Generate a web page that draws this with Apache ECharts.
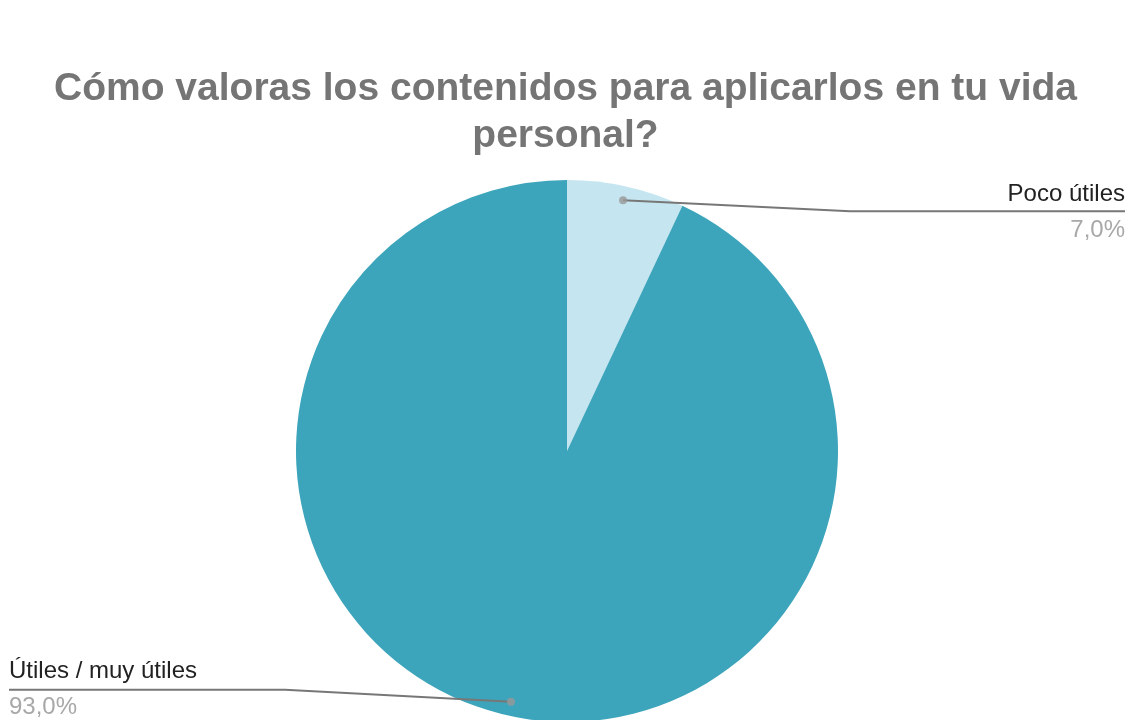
<!DOCTYPE html>
<html>
<head>
<meta charset="utf-8">
<script src="https://cdn.jsdelivr.net/npm/echarts@6/dist/echarts.min.js"></script>
<style>
html,body{margin:0;padding:0;background:#fff;}
#chart{width:1131px;height:720px;}
</style>
</head>
<body>
<div id="chart"></div>
<script>
var titleText = 'Cómo valoras los contenidos para aplicarlos en tu vida\npersonal?';
var categories = ['Poco útiles', 'Útiles / muy útiles'];
var values = [7.0, 93.0];
var colors = ['#c5e6f0', '#3da5bb'];

var W = 1131;
var CX = 567, CY = 451, R = 271, RDOT = 257;

var pieData = categories.map(function (c, i) {
  return { name: c, value: values[i], itemStyle: { color: colors[i] } };
});

var total = values.reduce(function (a, b) { return a + b; }, 0);
var cum = 0;
var dotData = values.map(function (v) {
  var mid = cum + v / 2;
  cum += v;
  return [RDOT / R, mid / total * 100];
});

function fmtPct(v) {
  return (v / total * 100).toFixed(1).replace('.', ',') + '%';
}

var chart = echarts.init(document.getElementById('chart'), null, { renderer: 'canvas' });
chart.setOption({
  backgroundColor: '#ffffff',
  animation: false,
  title: {
    text: titleText,
    left: 'center',
    top: 61,
    textStyle: {
      fontFamily: 'Liberation Sans, Arial, sans-serif',
      fontSize: 39,
      fontWeight: 'bold',
      color: '#757575',
      lineHeight: 47
    }
  },
  polar: { center: [CX, CY], radius: R },
  angleAxis: { type: 'value', min: 0, max: 100, startAngle: 90, clockwise: true, show: false },
  radiusAxis: { type: 'value', min: 0, max: 1, show: false },
  series: [
    {
      type: 'pie',
      center: [CX, CY],
      radius: [0, R],
      startAngle: 90,
      clockwise: true,
      silent: true,
      data: pieData,
      label: { show: false },
      labelLine: { show: false },
      itemStyle: { borderWidth: 0 }
    },
    {
      type: 'pie',
      center: [CX, CY],
      radius: [0, RDOT],
      startAngle: 90,
      clockwise: true,
      silent: true,
      z: 3,
      data: categories.map(function (c, i) {
        return { name: c, value: values[i], itemStyle: { color: 'rgba(0,0,0,0)' } };
      }),
      itemStyle: { borderWidth: 0 },
      label: {
        show: true,
        position: 'outside',
        formatter: function (p) {
          return '{n|' + p.name + '}\n{p|' + fmtPct(p.value) + '}';
        },
        rich: {
          n: { fontFamily: 'Liberation Sans, Arial, sans-serif', fontSize: 24, color: '#222222', lineHeight: 36 },
          p: { fontFamily: 'Liberation Sans, Arial, sans-serif', fontSize: 24, color: '#a8a8a8', lineHeight: 36 }
        }
      },
      labelLine: {
        show: true,
        length: 10,
        length2: 10,
        lineStyle: { color: '#777777', width: 2 }
      },
      labelLayout: function (params) {
        var pts = params.labelLinePoints;
        if (!pts) return {};
        var p0 = pts[0];
        var right = p0[0] >= CX;
        var ly = right ? p0[1] + 11 : p0[1] - 12;
        var knee = right ? CX + 283 : CX - 282;
        var edge = right ? W - 6 : 9;
        return {
          x: edge,
          y: ly + (right ? 1 : 0),
          align: right ? 'right' : 'left',
          verticalAlign: 'middle',
          labelLinePoints: [p0, [knee, ly], [edge, ly]]
        };
      }
    },
    {
      type: 'scatter',
      coordinateSystem: 'polar',
      silent: true,
      z: 5,
      symbol: 'circle',
      symbolSize: 8,
      itemStyle: { color: '#999999' },
      data: dotData
    }
  ]
});
</script>
</body>
</html>
